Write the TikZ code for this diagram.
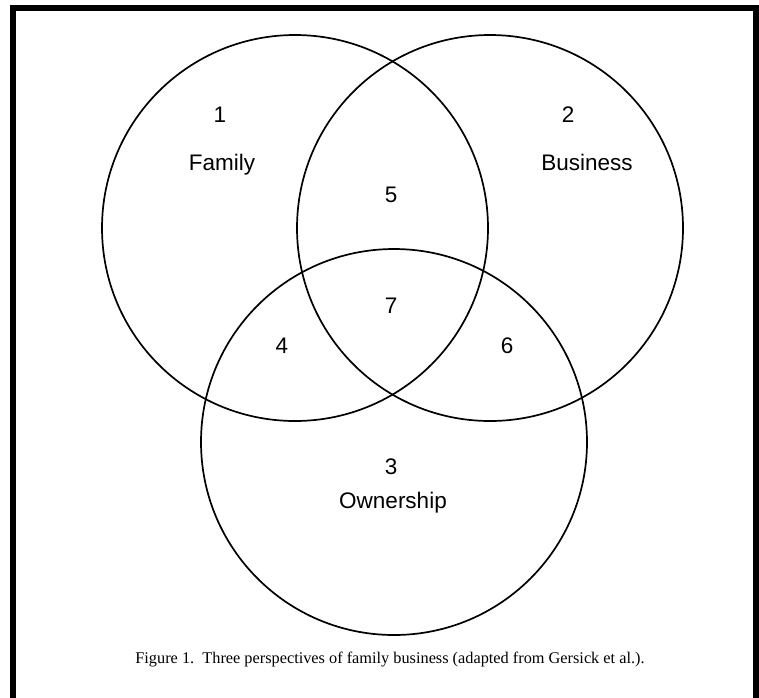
\documentclass[tikz,border=0pt]{standalone}
\usepackage{fontspec}
\setmainfont{Liberation Serif}
\setsansfont{Liberation Sans}

\begin{document}
\begin{tikzpicture}[x=1pt, y=-1pt, font=\sffamily\fontsize{22.5}{26}\selectfont,
	set/.style={circle, draw, line width=1.7pt, minimum size=386pt, inner sep=0pt, outer sep=0pt},
	every node/.style={inner sep=0pt, anchor=base}]
	\useasboundingbox (0,0) rectangle (759,697);

	% frame round the figure
	\draw[line width=5.5pt, line join=miter] (13,720) -- (13,8) -- (756,8) -- (756,720);

	% the three sets
	\node[set, anchor=center] (family) at (295,228) {};
	\node[set, anchor=center] (business) at (490,228) {};
	\node[set, anchor=center] (ownership) at (394,442) {};

	% region numbers and names (placed on their baselines)
	\node (n1) at (220,122) {1};
	\node (familyname) at (222,170) {Family};
	\node (n2) at (568,122) {2};
	\node (businessname) at (587,170) {Business};
	\node (n5) at (391,202) {5};
	\node (n7) at (391,313) {7};
	\node (n4) at (282,353) {4};
	\node (n6) at (507,353) {6};
	\node (n3) at (391,474) {3};
	\node (ownershipname) at (393,508) {Ownership};

	% caption
	\node[font=\rmfamily\fontsize{16.3}{19}\selectfont] (caption) at (390,663) {Figure 1.\ \ Three perspectives of family business (adapted from Gersick et al.).};
\end{tikzpicture}
\end{document}
